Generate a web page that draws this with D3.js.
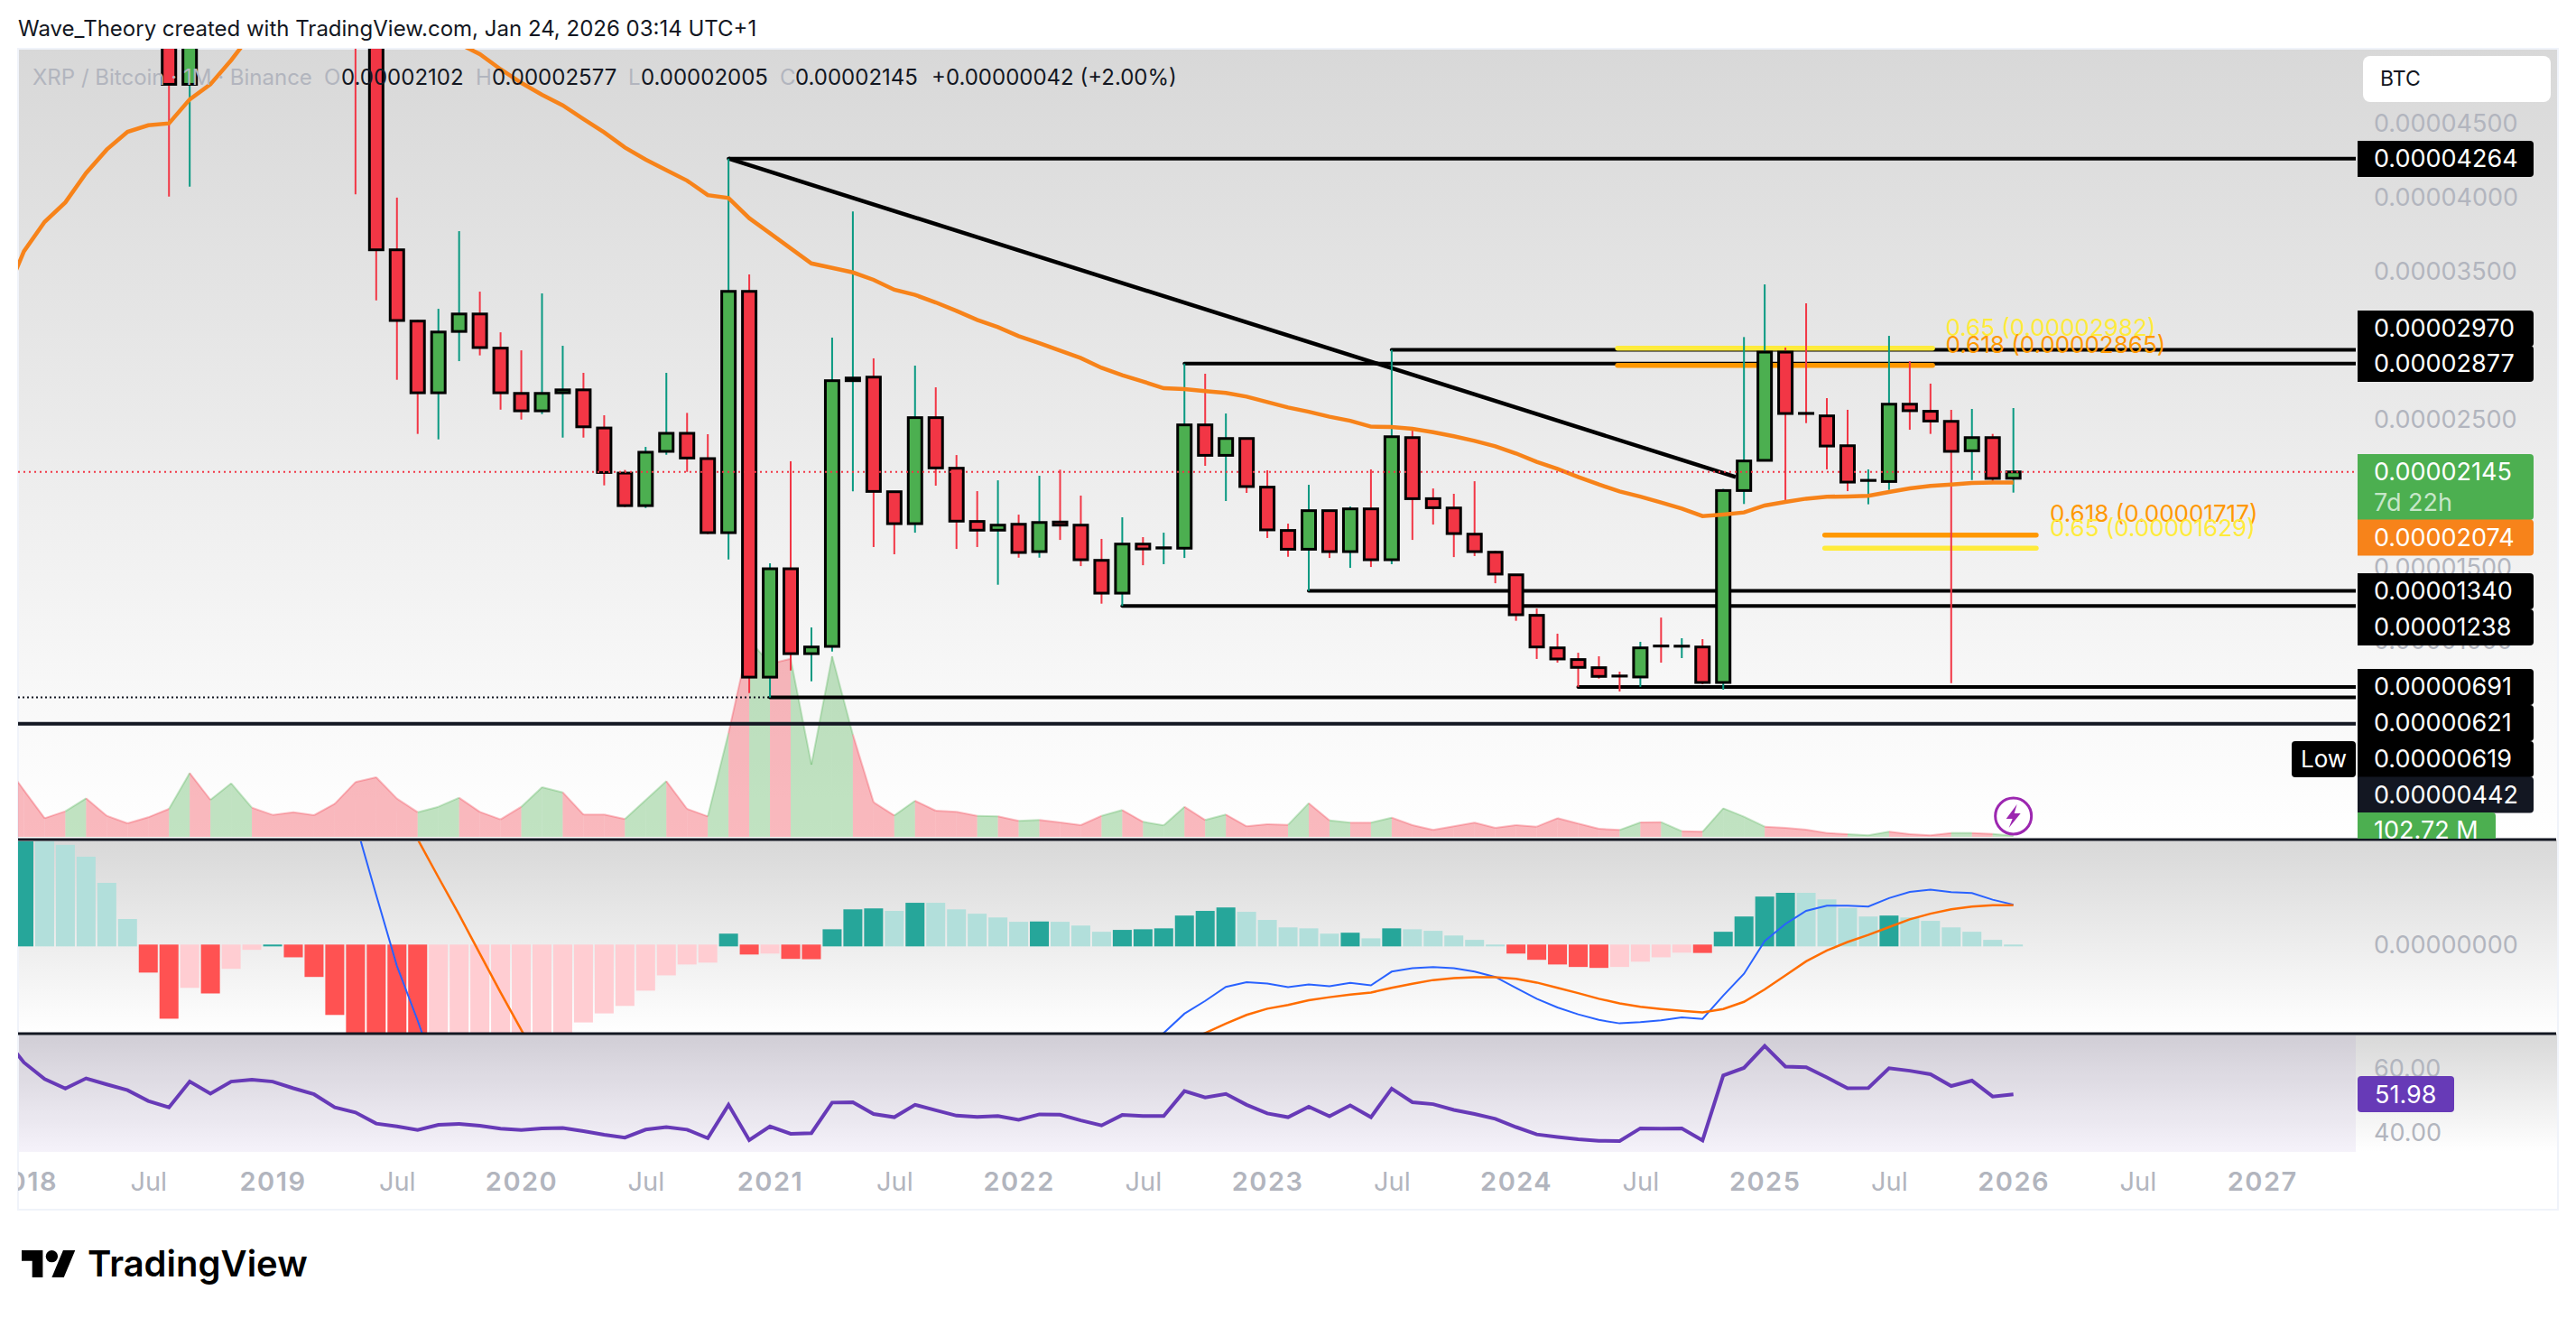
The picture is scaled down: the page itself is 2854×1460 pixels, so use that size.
<!doctype html>
<html>
<head>
  <title>XRP / Bitcoin</title>
  <script src="https://d3js.org/d3.v7.min.js" charset="utf-8"></script>
  <style>
    body { margin: 0; background: #fff; }
    svg { display: block; }
    text { font-family: Inter, "Noto Sans", sans-serif; }
  </style>
</head>
<body>
<div id="chart"></div>
<script>

// all prices in units of 0.00000001 BTC, one entry per month from Jan 2018
const opens = [17000,11500,9500,7000,9400,8400,7000,5500,4766,8000,7500,8200,9000,8200,7800,7000,6000,5200,3647,3165,2680,3095,3213,2982,2676,2558,2680,2700,2442,2137,1917,2284,2406,2235,1734,3366,757,1490,916,965,2762,2786,2011,1795,2512,2170,1810,1751,1791,1606,1806,1785,1547,1325,1657,1630,1629,2463,2257,2371,2042,1749,1622,1883,1606,1895,1551,2377,1964,1901,1724,1602,1449,1175,955,876,821,765,758,968,966,961,721,2019,2223,2955,2541,2524,2322,2087,2080,2603,2555,2487,2288,2377,2102];
const highs = [21000,12000,10000,12000,9900,8900,7400,6000,9000,8500,8800,9500,9300,8400,8000,7200,6200,5400,4000,3173,3248,3773,3364,3089,2967,3352,2998,2815,2528,2158,2314,2815,2544,2400,4264,3480,1527,2217,1093,3053,3907,2913,2011,2864,2717,2259,2015,2088,1856,2119,2160,1985,1692,1838,1704,1734,2877,2809,2540,2371,2156,1795,2058,1883,1911,2162,2970,2426,2033,1997,2082,1612,1449,1221,1051,922,898,794,996,1160,1020,1014,2030,3057,3413,2986,3285,2644,2565,2162,3065,2894,2742,2565,2571,2402,2577];
const lows = [8500,7600,6400,6800,8000,6000,5100,4007,4074,7000,7200,7900,8000,7500,6800,5700,4023,3305,2768,2402,2365,2894,2933,2566,2499,2536,2377,2377,2054,1907,1901,2261,2145,1724,1553,650,619,802,729,930,2013,1637,1588,1734,2052,1624,1637,1382,1565,1565,1685,1508,1254,1238,1514,1521,1563,2186,1948,2003,1698,1571,1340,1563,1496,1502,1521,1685,1789,1569,1576,1392,1138,880,855,691,747,660,691,855,886,709,672,1928,2223,1938,2475,2162,2015,1926,2023,2430,2402,717,2090,2072,2005];
const closes = [11500,9500,7000,9400,8400,7000,5500,4766,8000,7500,8200,9000,8200,7800,7000,6000,5200,3647,3169,2680,3091,3213,2986,2680,2558,2676,2700,2450,2141,1917,2278,2406,2239,1734,3366,757,1490,916,961,2762,2780,2013,1795,2512,2172,1812,1751,1785,1600,1803,1785,1551,1325,1657,1624,1632,2463,2257,2371,2046,1753,1622,1883,1606,1895,1551,2383,1964,1903,1728,1606,1454,1179,961,880,823,762,764,955,967,967,721,2019,2219,2955,2540,2540,2320,2076,2088,2603,2559,2489,2284,2377,2101,2145];

// these start one month earlier, at Dec 2017
const emaLine = [3300,3637,3836,3968,4166,4325,4445,4489,4502,4664,4766,4929,5112,5300,5450,5550,5600,5600,5560,5500,5400,5300,5041,4970,4868,4776,4695,4624,4532,4441,4339,4257,4186,4115,4017,3997,3861,3759,3657,3555,3525,3494,3444,3377,3342,3291,3234,3173,3124,3063,3016,2965,2915,2849,2799,2756,2711,2705,2691,2679,2654,2617,2581,2552,2518,2491,2451,2449,2436,2414,2386,2355,2318,2270,2213,2166,2111,2060,2013,1978,1938,1897,1846,1857,1871,1918,1942,1964,1977,1979,1983,2009,2034,2050,2060,2070,2074,2074];
const volumes = [250,155,62,85,128,70,45,65,93,212,123,178,97,73,82,72,110,182,198,127,82,100,130,83,58,100,165,148,74,74,59,122,185,93,68,345,655,575,592,240,600,340,115,71,120,87,83,70,68,53,56,48,39,70,89,50,38,100,56,74,35,42,40,112,55,47,47,64,39,23,35,47,30,39,34,62,44,27,23,48,49,19,17,95,67,34,30,24,13,9,5,17,9,5,13,13,10,4];
const rsiLine = [70.3,62.0,56.8,53.8,57.0,55.1,53.3,49.9,47.9,56.0,52.2,56.0,56.6,56.0,53.9,52.0,47.9,46.3,42.8,41.9,40.8,42.4,42.7,42.1,41.2,40.8,41.3,41.4,40.4,39.3,38.4,40.9,41.7,40.9,38.2,48.7,37.6,41.9,39.6,39.8,49.4,49.5,45.8,44.8,48.7,47.0,45.3,44.9,45.2,44.0,45.7,45.6,43.8,42.2,45.5,45.2,45.2,53.0,51.0,52.1,48.7,46.0,44.8,48.1,45.1,48.5,44.8,53.8,49.5,48.9,47.1,45.8,44.3,41.7,39.4,38.6,37.9,37.4,37.3,41.3,41.2,41.3,37.5,57.9,60.3,67.2,60.7,60.5,57.3,53.9,54.0,60.2,59.4,58.3,54.6,56.3,51.3,52.0];

// MACD read off the pane in its own units. null = off the pane, not visible
const macdHist = [360,345,323,285,201,85,-87,-235,-136,-154,-75,-14,3,-38,-101,-223,-290,-320,-340,-360,-350,-330,-310,-300,-295,-290,-285,-247,-218,-194,-145,-96,-61,-55,38,-29,-26,-43,-44,52,116,119,111,137,137,116,102,90,76,77,76,64,44,50,52,55,96,111,122,108,82,58,55,38,41,23,55,52,47,32,18,3,-26,-46,-61,-69,-72,-69,-52,-38,-23,-24,44,93,157,169,169,148,120,93,96,90,79,58,44,18,3];
const macdLine = [null,null,null,null,null,null,null,null,null,null,null,null,null,null,null,600,394,162,-66,-241,-431,null,null,null,null,null,null,null,null,null,null,null,null,null,null,null,null,null,null,null,null,null,null,null,null,null,null,null,null,null,null,null,null,-411,-341,-281,-219,-178,-133,-118,-122,-134,-125,-131,-120,-128,-84,-73,-69,-73,-84,-101,-136,-171,-199,-221,-239,-250,-246,-240,-231,-236,-161,-91,14,69,111,128,128,125,152,172,179,171,168,147,131];
const signalLine = [null,null,null,null,null,null,null,null,null,null,null,null,null,null,null,null,null,null,463,341,219,99,-26,-151,-271,-391,null,null,null,null,null,null,null,null,null,null,null,null,null,null,null,null,null,null,null,null,null,null,null,null,null,null,null,null,null,null,-311,-281,-251,-223,-203,-191,-176,-166,-158,-151,-136,-123,-111,-105,-102,-102,-107,-119,-136,-153,-171,-186,-197,-204,-210,-215,-204,-181,-141,-96,-51,-16,11,34,59,84,102,116,125,129,129];

// drawn levels: start month, price
const levelStarts = [34,66,56,62,53,75,36];
const levelPrices = [4264,2970,2877,1340,1238,691,621];
const trendFrom = [34,4264];
const trendTo = [82.6,2111];
const fibStarts = [76.9,76.9,86.9,86.9];
const fibEnds = [92.1,92.1,97.1,97.1];
const fibPrices = [2982,2865,1717,1629];
const fibLabels = ["0.65 (0.00002982)","0.618 (0.00002865)","0.618 (0.00001717)","0.65 (0.00001629)"];

const priceTicks = [1000,1500,2500,3500,4000,4500];
const rsiTicks = [40,60];
const timeMonths = [0,6,12,18,24,30,36,42,48,54,60,66,72,78,84,90,96,102,108];
const timeLabels = ["2018","Jul","2019","Jul","2020","Jul","2021","Jul","2022","Jul","2023","Jul","2024","Jul","2025","Jul","2026","Jul","2027"];

const tagTexts = ["0.00004264","0.00002970","0.00002877","0.00002074","0.00001340","0.00001238","0.00000691","0.00000621","0.00000619","0.00000442"];

const W = 2854, H = 1460;
const plotL = 20, plotR = 2610, frameR = 2834;

const svg = d3.select("#chart").append("svg").attr("width", W).attr("height", H);
const defs = svg.append("defs");

function grad(id, stops) {
  const g = defs.append("linearGradient").attr("id", id).attr("x1", 0).attr("x2", 0).attr("y1", 0).attr("y2", 1);
  stops.forEach((c, i) => g.append("stop").attr("offset", i / (stops.length - 1)).attr("stop-color", c));
}
grad("paneBg", ["#d8d8d8", "#ffffff"]);
function clip(id, x, y, w, h) {
  defs.append("clipPath").attr("id", id).append("rect").attr("x", x).attr("y", y).attr("width", w).attr("height", h);
}
clip("mainClip", plotL, 54, plotR - plotL, 875);
clip("macdClip", plotL, 932, plotR - plotL, 212);
clip("rsiClip", plotL, 1147, plotR - plotL, 129);
clip("timeClip", plotL, 1276, plotR - plotL, 64);
clip("tagClip", plotR, 54, frameR - plotR, 875);

const x = d3.scaleLinear().domain([0, 108]).range([26.5, 26.5 + 22.96 * 108]);
const y = d3.scaleLinear().domain([0, 4500]).range([874.1, 137]);
const volY = d3.scaleLinear().domain([0, 600]).range([927, 727]);
const macdY = d3.scaleLinear().domain([-283, 340]).range([1145, 930]);
const rsiY = d3.scaleLinear().domain([40, 60]).range([1254.5, 1184]);

const GREEN = "#4caf50", RED = "#f23645", WICK_G = "#089981", GREY = "#b2b5be", ORANGE = "#f7831a", DARK = "#131722";
const fmt = v => (v / 1e8).toFixed(8);

// frame and pane backgrounds
svg.append("rect").attr("x", plotL).attr("y", 54).attr("width", frameR - plotL).attr("height", 876).attr("fill", "url(#paneBg)");
svg.append("rect").attr("x", plotL).attr("y", 930).attr("width", frameR - plotL).attr("height", 215).attr("fill", "url(#paneBg)");
svg.append("rect").attr("x", plotL).attr("y", 1145).attr("width", frameR - plotL).attr("height", 131).attr("fill", "url(#paneBg)");
svg.append("rect").attr("x", plotL).attr("y", 1147).attr("width", plotR - plotL).attr("height", 129).attr("fill", "#7e57c2").attr("opacity", 0.08);
svg.append("rect").attr("x", plotL).attr("y", 54).attr("width", frameR - plotL).attr("height", 1286)
  .attr("fill", "none").attr("stroke", "#f0f3fa").attr("stroke-width", 2);

// main pane
const main = svg.append("g").attr("clip-path", "url(#mainClip)");

const volArea = d3.area().x(d => x(d[0])).y0(volY(0)).y1(d => volY(d[1]));
const volTop = d3.line().x(d => x(d[0])).y(d => volY(d[1]));
const isUp = i => closes[i] >= opens[i];
d3.range(0, opens.length).forEach(i => {
  const seg = [[i - 1, volumes[i]], [i, volumes[i + 1]]];
  const c = isUp(i) ? GREEN : RED;
  main.append("path").attr("d", volArea(seg)).attr("fill", c).attr("opacity", 0.35);
  main.append("path").attr("d", volTop(seg)).attr("fill", "none").attr("stroke", c).attr("stroke-opacity", 0.3).attr("stroke-width", 2);
});

// dotted extension of the low level, and the full width line
main.append("line").attr("x1", plotL).attr("x2", x(36)).attr("y1", y(621)).attr("y2", y(621))
  .attr("stroke", DARK).attr("stroke-width", 2).attr("stroke-dasharray", "2 3");
main.append("line").attr("x1", plotL).attr("x2", plotR).attr("y1", y(442)).attr("y2", y(442))
  .attr("stroke", DARK).attr("stroke-width", 4);

levelPrices.forEach((p, i) => {
  main.append("line").attr("x1", x(levelStarts[i])).attr("x2", plotR).attr("y1", y(p)).attr("y2", y(p))
    .attr("stroke", "#000").attr("stroke-width", 4).attr("stroke-linecap", "round");
});
main.append("line").attr("x1", x(trendFrom[0])).attr("y1", y(trendFrom[1])).attr("x2", x(trendTo[0])).attr("y2", y(trendTo[1]))
  .attr("stroke", "#000").attr("stroke-width", 4.5);

fibPrices.forEach((p, i) => {
  main.append("line").attr("x1", x(fibStarts[i])).attr("x2", x(fibEnds[i])).attr("y1", y(p)).attr("y2", y(p))
    .attr("stroke", i === 0 || i === 3 ? "#ffeb3b" : "#ff9800").attr("stroke-width", 5.5).attr("stroke-linecap", "round");
});

// candles
const bodyW = 15;
const candles = main.selectAll("g.candle").data(opens).join("g").attr("class", "candle");
candles.append("line")
  .attr("x1", (d, i) => x(i)).attr("x2", (d, i) => x(i))
  .attr("y1", (d, i) => y(highs[i])).attr("y2", (d, i) => y(lows[i]))
  .attr("stroke", (d, i) => isUp(i) ? WICK_G : RED).attr("stroke-width", 2);
candles.append("rect")
  .attr("x", (d, i) => x(i) - bodyW / 2).attr("width", bodyW)
  .attr("y", (d, i) => y(Math.max(opens[i], closes[i])))
  .attr("height", (d, i) => Math.max(0.1, Math.abs(y(opens[i]) - y(closes[i]))))
  .attr("fill", (d, i) => isUp(i) ? GREEN : RED)
  .attr("stroke", "#000").attr("stroke-width", 3);

// 100 EMA
const emaPath = d3.line().x((d, i) => x(i - 1)).y(d => y(d));
main.append("path").attr("d", emaPath(emaLine)).attr("fill", "none").attr("stroke", ORANGE).attr("stroke-width", 4.5);

// last price
main.append("line").attr("x1", plotL).attr("x2", plotR).attr("y1", y(2145)).attr("y2", y(2145))
  .attr("stroke", RED).attr("stroke-width", 2).attr("stroke-dasharray", "2 4");

// fib labels
const fibX = [2155.5, 2155.5, 2271, 2271];
const fibTextY = [362.7, 381.7, 569, 585];
fibLabels.forEach((t, i) => {
  svg.append("text").attr("x", fibX[i]).attr("y", fibTextY[i]).attr("dy", "0.35em")
    .attr("font-size", 26).attr("fill", i === 0 || i === 3 ? "#ffeb3b" : "#ff9800").text(t);
});

// session bolt
const bolt = svg.append("g").attr("transform", `translate(${x(96)},904)`);
bolt.append("circle").attr("r", 20).attr("fill", "#fff").attr("stroke", "#9c27b0").attr("stroke-width", 3);
bolt.append("path").attr("d", "M4,-13 L-8,3 L-1,3 L-5,13 L8,-3 L1,-3 Z").attr("fill", "#9c27b0");

// MACD pane
const macdG = svg.append("g").attr("clip-path", "url(#macdClip)");
const histColor = (d, i) => {
  const prev = i ? macdHist[i - 1] : -Infinity;
  if (d >= 0) return d > prev ? "#26a69a" : "#b2dfdb";
  return d < prev ? "#ff5252" : "#ffcdd2";
};
macdG.selectAll("rect").data(macdHist).join("rect")
  .attr("x", (d, i) => x(i) - 10.5).attr("width", 21)
  .attr("y", d => Math.min(macdY(d), macdY(0)) - (d < 0 ? 1 : 0))
  .attr("height", d => Math.abs(macdY(d) - macdY(0)) + 1)
  .attr("fill", histColor);
const macdPath = d3.line().defined(d => d !== null).x((d, i) => x(i)).y(d => macdY(d));
macdG.append("path").attr("d", macdPath(macdLine)).attr("fill", "none").attr("stroke", "#2962ff").attr("stroke-width", 2);
macdG.append("path").attr("d", macdPath(signalLine)).attr("fill", "none").attr("stroke", "#ff6d00").attr("stroke-width", 2.5);

// RSI pane
const rsiG = svg.append("g").attr("clip-path", "url(#rsiClip)");
const rsiPath = d3.line().x((d, i) => x(i - 1)).y(d => rsiY(d));
rsiG.append("path").attr("d", rsiPath(rsiLine)).attr("fill", "none").attr("stroke", "#673ab7").attr("stroke-width", 4);

// pane separators
[930, 1145].forEach(s => {
  svg.append("line").attr("x1", plotL).attr("x2", frameR - 2).attr("y1", s).attr("y2", s).attr("stroke", DARK).attr("stroke-width", 3);
});

// axes
const axisFont = 27, axisTextX = 2630;
function styleAxis(g) {
  g.select(".domain").remove();
  g.selectAll("line").remove();
  g.selectAll("text").attr("x", 0).attr("fill", GREY).attr("font-size", axisFont).attr("font-family", "Inter, sans-serif");
}
svg.append("g").attr("transform", `translate(${axisTextX},0)`)
  .call(d3.axisRight(y).tickValues(priceTicks).tickFormat(fmt)).call(styleAxis);
svg.append("g").attr("transform", `translate(${axisTextX},0)`)
  .call(d3.axisRight(macdY).tickValues([0]).tickFormat(fmt)).call(styleAxis);
svg.append("g").attr("transform", `translate(${axisTextX},0)`)
  .call(d3.axisRight(rsiY).tickValues(rsiTicks).tickFormat(d => d.toFixed(2))).call(styleAxis);

const timeAxis = svg.append("g").attr("clip-path", "url(#timeClip)")
  .append("g").attr("transform", "translate(0,1309)")
  .call(d3.axisBottom(x).tickValues(timeMonths).tickFormat((d, i) => timeLabels[i]));
timeAxis.select(".domain").remove();
timeAxis.selectAll("line").remove();
timeAxis.selectAll("text").attr("y", 0).attr("dy", "0.35em").attr("font-size", 29)
  .attr("font-family", "Inter, sans-serif").attr("fill", GREY)
  .attr("letter-spacing", (d, i) => i % 2 ? 0 : 1.5)
  .attr("font-weight", (d, i) => i % 2 ? 400 : 600);

// price tags
const tagFills = ["#000","#000","#000",ORANGE,"#000","#000","#000","#000","#000",DARK];
const tagCenters = [176,364,403,595.5,655,695,761,801,841,880.5];
const tagG = svg.append("g").attr("clip-path", "url(#tagClip)");
function tag(cx, cy, h, w, fill) {
  tagG.append("path").attr("fill", fill)
    .attr("d", `M${cx},${cy - h / 2} h${w - 4} a4,4 0 0 1 4,4 v${h - 8} a4,4 0 0 1 -4,4 h${-(w - 4)} Z`);
}
tag(2612, 539.5, 73, 195, GREEN);
tagG.append("text").attr("x", axisTextX).attr("y", 523).attr("dy", "0.35em").attr("font-size", axisFont).attr("fill", "#fff").text(fmt(closes[96]));
tagG.append("text").attr("x", axisTextX).attr("y", 557).attr("dy", "0.35em").attr("font-size", axisFont).attr("fill", "#c6e6c8").text("7d 22h");
tagTexts.forEach((t, i) => {
  tag(2612, tagCenters[i], 40, 195, tagFills[i]);
  tagG.append("text").attr("x", axisTextX).attr("y", tagCenters[i]).attr("dy", "0.35em").attr("font-size", axisFont).attr("fill", "#fff").text(t);
});
tag(2612, 920, 40, 153, GREEN);
tagG.append("text").attr("x", axisTextX).attr("y", 920).attr("dy", "0.35em").attr("font-size", axisFont).attr("fill", "#fff").text("102.72 M");

// Low flag
svg.append("rect").attr("x", 2539).attr("y", 821).attr("width", 71).attr("height", 40).attr("rx", 4).attr("fill", "#000");
svg.append("text").attr("x", 2574.5).attr("y", 841).attr("dy", "0.35em").attr("text-anchor", "middle").attr("font-size", 26).attr("fill", "#fff").text("Low");

// RSI tag
svg.append("rect").attr("x", 2612).attr("y", 1192).attr("width", 107).attr("height", 40).attr("rx", 4).attr("fill", "#673ab7");
svg.append("text").attr("x", 2631).attr("y", rsiY(rsiLine[97])).attr("dy", "0.35em").attr("font-size", axisFont).attr("fill", "#fff").text("51.98");

// currency button
svg.append("rect").attr("x", 2618).attr("y", 62).attr("width", 208).attr("height", 51).attr("rx", 8).attr("fill", "#fff");
svg.append("text").attr("x", 2637).attr("y", 87).attr("dy", "0.35em").attr("font-size", 23).attr("fill", "#131722").text("BTC");

// header and legend
svg.append("text").attr("x", 20).attr("y", 32).attr("dy", "0.35em").attr("font-size", 24).attr("fill", "#131722")
  .text("Wave_Theory created with TradingView.com, Jan 24, 2026 03:14 UTC+1");
svg.append("text").attr("x", 36).attr("y", 86).attr("dy", "0.35em").attr("font-size", 24).attr("fill", GREY)
  .text("XRP / Bitcoin · 1M · Binance");
const legendKeys = ["O","H","L","C"];
const legendKeyX = [359,527,696,864];
const legendValX = [378,545,710,881];
const legendVals = [opens[96],highs[96],lows[96],closes[96]];
legendKeys.forEach((k, i) => {
  svg.append("text").attr("x", legendKeyX[i]).attr("y", 86).attr("dy", "0.35em").attr("font-size", 24).attr("fill", GREY).text(k);
  svg.append("text").attr("x", legendValX[i]).attr("y", 86).attr("dy", "0.35em").attr("font-size", 24).attr("fill", "#131722").text(fmt(legendVals[i]));
});
svg.append("text").attr("x", 1032).attr("y", 86).attr("dy", "0.35em").attr("font-size", 24).attr("fill", "#131722").text("+0.00000042 (+2.00%)");

// TradingView logo
svg.append("g").attr("transform", "translate(24,1378.3) scale(1.67)").attr("fill", "#000")
  .html('<path d="M14 22H7V11H0V4h14v18zM28 22h-8l7.5-18h8L28 22z"/><circle cx="20" cy="8" r="4"/>');
svg.append("text").attr("x", 97).attr("y", 1400).attr("dy", "0.35em").attr("font-size", 40).attr("font-weight", 600).attr("fill", "#000").text("TradingView");

</script>
</body>
</html>
